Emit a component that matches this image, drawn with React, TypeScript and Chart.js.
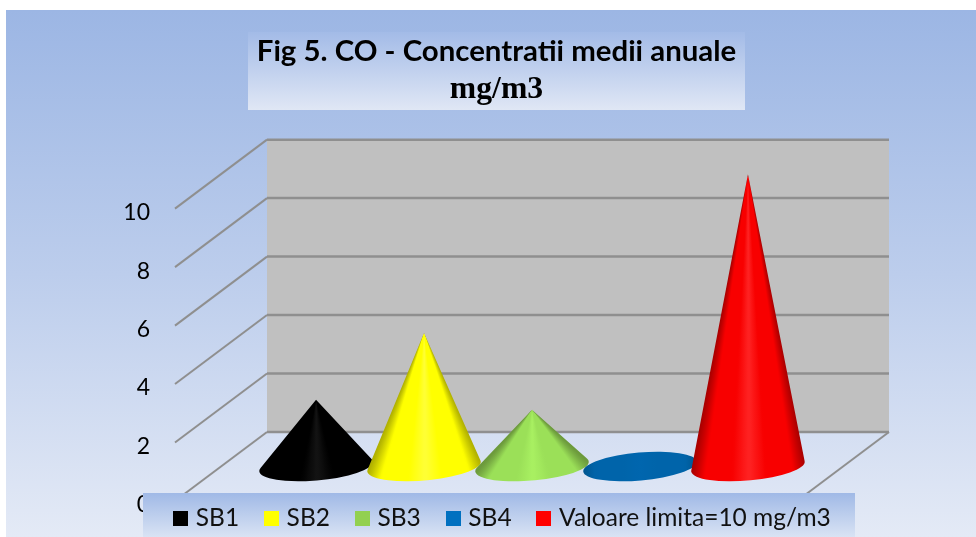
import React, { useEffect, useRef } from "react";
import { Chart, registerables } from "chart.js";

Chart.register(...registerables);

const categories = [""];
const seriesNames = ["SB1", "SB2", "SB3", "SB4", "Valoare limita=10 mg/m3"];
const seriesValues = [2.28, 4.57, 1.94, 0.1, 10];
const legendColors = ["#000000", "#ffff00", "#92d050", "#0070c0", "#ff0000"];
const edgeColors = ["#000000", "#b0b000", "#6c9a3c", "#00558f", "#a80000"];
const mainColors = ["#000000", "#ffff00", "#9be058", "#0064aa", "#f80000"];
const glowColors = ["#141414", "#ffff38", "#a9f162", "#0066ae", "#ff2424"];
const yTicks = [0, 2, 4, 6, 8, 10];
const titleText = "Fig 5. CO - Concentratii medii anuale";
const subtitleText = "mg/m3";

const FONT = "Lato, Carlito, sans-serif";
const DEPTH_X = 92;
const DEPTH_Y = 69;
const TILT = (-5 * Math.PI) / 180;
const RY = 14;
const LEGEND_PADDING = 29.25;

const hex = (c: string) => [1, 3, 5].map((i) => parseInt(c.slice(i, i + 2), 16));
const mix = (a: string, b: string, t: number) => {
  const A = hex(a);
  const B = hex(b);
  return `rgb(${A.map((v, i) => Math.round(v + (B[i] - v) * t)).join(",")})`;
};
const shade = (i: number, s: number) => {
  // s is 0 at the left silhouette and 1 at the right silhouette of the cone.
  const d = Math.abs(s - 0.5) * 2;
  if (d < 0.78) return mix(glowColors[i], mainColors[i], Math.min(1, d / 0.3));
  return mix(mainColors[i], edgeColors[i], (d - 0.78) / 0.22);
};

function drawCone(ctx: CanvasRenderingContext2D, el: any, i: number) {
  const cx = el.x + DEPTH_X / 2;
  const cy = el.base - DEPTH_Y / 2;
  const ax = cx;
  const ay = el.y - DEPTH_Y / 2;
  const rx = el.width / 2;
  const cos = Math.cos(TILT);
  const sin = Math.sin(TILT);
  const dx = ax - cx;
  const dy = ay - cy;
  const u = (dx * cos + dy * sin) / rx;
  const v = (-dx * sin + dy * cos) / RY;
  const d = Math.hypot(u, v);
  ctx.save();
  if (d <= 1) {
    // Apex inside the base: the cone is seen as a nearly flat disc.
    const g = ctx.createLinearGradient(cx - rx, 0, cx + rx, 0);
    for (let k = 0; k <= 20; k++) g.addColorStop(k / 20, shade(i, k / 20));
    ctx.fillStyle = g;
    ctx.beginPath();
    ctx.ellipse(cx, cy, rx, RY, TILT, 0, Math.PI * 2);
    ctx.fill();
    ctx.restore();
    return;
  }
  const phi = Math.atan2(v, u);
  const a = Math.acos(1 / d);
  const from = phi + a;
  const to = phi - a + Math.PI * 2;
  const point = (t: number) => {
    const px = rx * Math.cos(t);
    const py = RY * Math.sin(t);
    return [cx + px * cos - py * sin, cy + px * sin + py * cos];
  };
  // A conic gradient round the apex gives every ray of the cone one shade.
  const stops: [number, string][] = [];
  const steps = 72;
  for (let k = 0; k <= steps; k++) {
    const t = from + ((to - from) * k) / steps;
    const p = point(t);
    let angle = Math.atan2(p[1] - ay, p[0] - ax);
    if (angle < 0) angle += Math.PI * 2;
    stops.push([angle / (Math.PI * 2), shade(i, (Math.cos(t) + 1) / 2)]);
  }
  stops.sort((p, q) => p[0] - q[0]);
  const gradient = (ctx as any).createConicGradient(0, ax, ay);
  stops.forEach(([offset, color]) => gradient.addColorStop(offset, color));
  ctx.fillStyle = gradient;
  ctx.beginPath();
  const start = point(from);
  ctx.moveTo(ax, ay);
  ctx.lineTo(start[0], start[1]);
  ctx.ellipse(cx, cy, rx, RY, TILT, from, to);
  ctx.closePath();
  ctx.fill();
  ctx.restore();
}

const vGrad = (ctx: CanvasRenderingContext2D, y0: number, y1: number, stops: string[]) => {
  const g = ctx.createLinearGradient(0, y0, 0, y1);
  stops.forEach((c, i) => g.addColorStop(i / (stops.length - 1), c));
  return g;
};

const scenePlugin = {
  id: "scene",
  afterLayout(chart: any) {
    const legend = chart.legend;
    legend.left = 173 + 4.5 - LEGEND_PADDING;
    legend.top = 505.75 - LEGEND_PADDING;
    legend.bottom = 537;
    legend.right = 976;
    chart.boxes.forEach((box: any) => {
      const text = box.options && box.options.text;
      if (text === titleText || text === subtitleText) {
        box.left = 0;
        box.right = 993;
        box.top = text === titleText ? 35.5 : 74;
      }
    });
    chart._layers.push({
      z: -0.5,
      _idx: 999,
      draw() {
        const ctx = chart.ctx;
        ctx.save();
        ctx.fillStyle = vGrad(ctx, 493, 537, ["#a0b9e6", "#d9e3f4"]);
        ctx.fillRect(143, 493, 712, 44);
        ctx.restore();
      },
    });
  },
  beforeDraw(chart: any) {
    const ctx = chart.ctx;
    const y = chart.scales.y;
    const { left, right } = chart.chartArea;
    const y0 = y.getPixelForValue(0);
    const yMax = y.getPixelForValue(yTicks[yTicks.length - 1]);
    ctx.save();
    ctx.fillStyle = vGrad(ctx, 10, 537, ["#9cb6e4", "#bccdec", "#e4eaf6"]);
    ctx.fillRect(6, 10, 970, 527);
    ctx.fillStyle = vGrad(ctx, 32, 110, ["#a3bbe7", "#e0e7f5"]);
    ctx.fillRect(248, 32, 497, 78);
    ctx.fillStyle = "#c0c0c0";
    ctx.fillRect(left + DEPTH_X, yMax - DEPTH_Y, right - left, y0 - yMax);
    ctx.strokeStyle = "#8f8f8f";
    yTicks.forEach((v) => {
      const py = y.getPixelForValue(v);
      ctx.lineWidth = 2;
      ctx.beginPath();
      ctx.moveTo(left, py);
      ctx.lineTo(left + DEPTH_X, py - DEPTH_Y);
      ctx.stroke();
      ctx.lineWidth = 2.5;
      ctx.beginPath();
      ctx.moveTo(left + DEPTH_X, py - DEPTH_Y);
      ctx.lineTo(right + DEPTH_X, py - DEPTH_Y);
      ctx.stroke();
    });
    ctx.lineWidth = 2;
    ctx.beginPath();
    ctx.moveTo(right + DEPTH_X, y0 - DEPTH_Y);
    ctx.lineTo(right, y0);
    ctx.stroke();
    ctx.restore();
  },
  beforeDatasetDraw() {
    return false;
  },
  afterDatasetsDraw(chart: any) {
    seriesNames.forEach((_, i) => {
      drawCone(chart.ctx, chart.getDatasetMeta(i).data[0], i);
    });
  },
};

const swatch = (color: string) => {
  const c = document.createElement("canvas");
  c.width = 15;
  c.height = 15;
  const g = c.getContext("2d")!;
  g.fillStyle = color;
  g.fillRect(0, 0, 15, 15);
  return c;
};

export default function App() {
  const ref = useRef<HTMLCanvasElement>(null);
  useEffect(() => {
    const chart = new Chart(ref.current!, {
      type: "bar",
      data: {
        labels: categories,
        datasets: seriesNames.map((label, i) => ({
          label,
          data: [seriesValues[i]],
          backgroundColor: legendColors[i],
          categoryPercentage: 0.868,
          barPercentage: 1.055,
        })),
      },
      plugins: [scenePlugin],
      options: {
        responsive: false,
        animation: false,
        layout: { padding: { left: 0, right: 179, top: 145, bottom: 0 } },
        scales: {
          x: { display: false },
          y: {
            min: 0,
            max: 10,
            afterFit: (s: any) => {
              s.width = 175;
              s.paddingBottom = 0;
            },
            grid: { display: false, drawTicks: false },
            border: { display: false },
            ticks: {
              stepSize: 2,
              padding: 25,
              z: -1,
              labelOffset: 4,
              color: "#000000",
              font: { family: FONT, size: 23 },
            },
          },
        },
        plugins: {
          tooltip: { enabled: false },
          title: {
            display: true,
            text: titleText,
            color: "#000000",
            padding: 0,
            font: { family: FONT, size: 29.4, weight: "bold", lineHeight: 1.086 },
          },
          subtitle: {
            display: true,
            text: subtitleText,
            color: "#000000",
            padding: 0,
            font: { family: "'Liberation Serif', serif", size: 31.7, weight: "bold", lineHeight: 1.0 },
          },
          legend: {
            position: "bottom",
            align: "start",
            maxHeight: 36,
            labels: {
              usePointStyle: true,
              pointStyleWidth: 6,
              padding: LEGEND_PADDING,
              color: "#111111",
              font: { family: FONT, size: 24.5 },
              generateLabels: () =>
                seriesNames.map((text, i) => ({
                  text,
                  pointStyle: swatch(legendColors[i]),
                  datasetIndex: i,
                  lineWidth: 0,
                  fontColor: "#111111",
                })),
            },
          },
        },
      } as any,
    });
    return () => chart.destroy();
  }, []);
  return (
    <canvas
      ref={ref}
      width={976}
      height={537}
      style={{ position: "absolute", left: 0, top: 0, width: 976, height: 537 }}
    />
  );
}
